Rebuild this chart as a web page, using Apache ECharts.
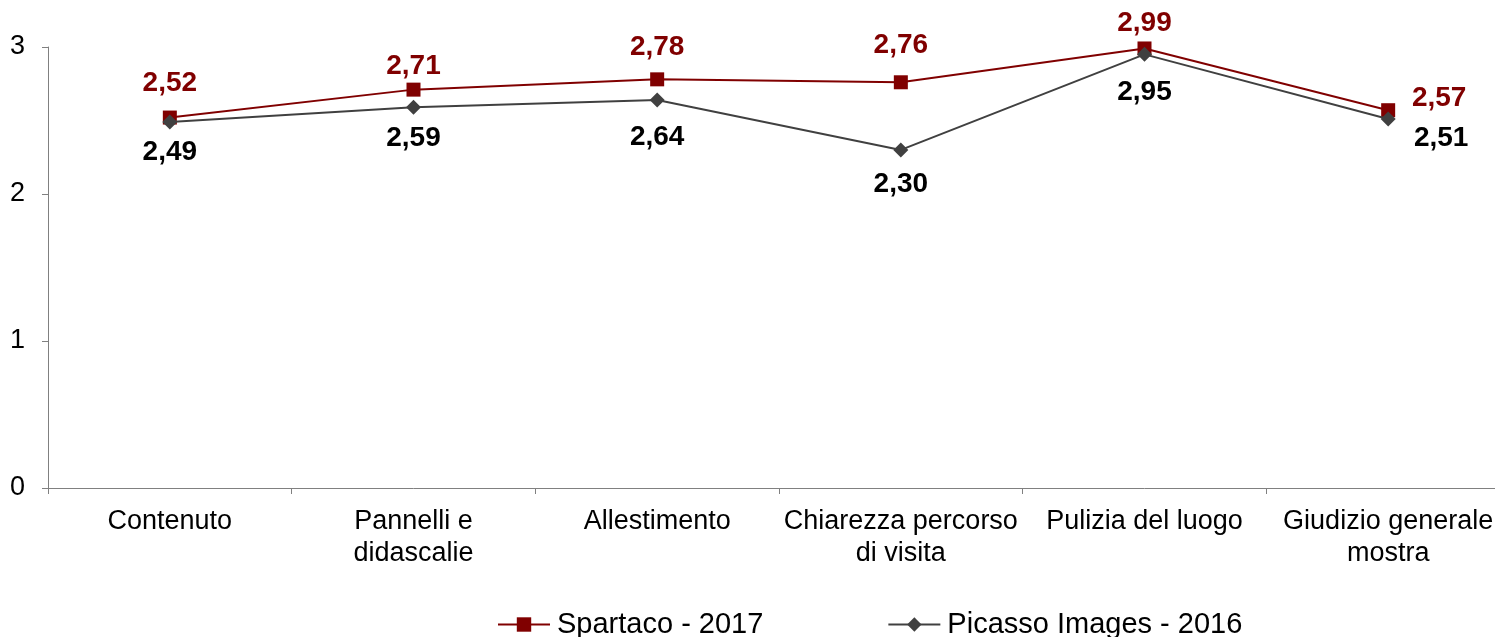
<!DOCTYPE html>
<html><head><meta charset="utf-8">
<script src="https://cdn.jsdelivr.net/npm/echarts@6/dist/echarts.min.js"></script>
<style>html,body{margin:0;padding:0;background:#fff;overflow:hidden;width:1495px;height:637px;}#c{width:1510px;height:637px;}</style>
</head><body><div id="c"></div>
<script>
const categories = ['Contenuto', 'Pannelli e\ndidascalie', 'Allestimento', 'Chiarezza percorso\ndi visita', 'Pulizia del luogo', 'Giudizio generale\nmostra'];
const spartaco = [2.52, 2.71, 2.78, 2.76, 2.99, 2.57];
const picasso = [2.49, 2.59, 2.64, 2.30, 2.95, 2.51];
const yTicks = [0, 1, 2, 3];
const seriesNames = ['Spartaco - 2017', 'Picasso Images - 2016'];
// label offsets (layout only)
const spOff = [[0,-34],[0,-23],[0,-32],[0,-37],[0,-25],[51,-12]];
const piOff = [[0,30],[0,31],[0,37],[0,34],[0,38],[53,19]];

const font = '"Liberation Sans", Arial, sans-serif';
function fmt(v){ return v.toFixed(2).replace('.', ','); }
function mk(vals, offs){
  return vals.map((v,i)=>({value:v, label:{offset:offs[i]}}));
}
const chart = echarts.init(document.getElementById('c'), null, {renderer:'canvas', width:1510, height:637});
chart.setOption({
  animation:false,
  backgroundColor:'#fff',
  grid:{left:48, top:47, bottom:149, right:0, containLabel:false},
  xAxis:{
    type:'category', data:categories, boundaryGap:true,
    axisLine:{lineStyle:{color:'#808080', width:1}},
    axisTick:{show:true, length:6, inside:false, lineStyle:{color:'#808080'}},
    axisLabel:{color:'#000', fontFamily:font, fontSize:27, lineHeight:32, margin:18, interval:0}
  },
  yAxis:{
    type:'value', min:0, max:3, interval:1,
    axisLine:{show:true, lineStyle:{color:'#808080', width:1}},
    axisTick:{show:true, length:6, lineStyle:{color:'#808080'}},
    splitLine:{show:false},
    axisLabel:{color:'#000', fontFamily:font, fontSize:27, margin:23,
      formatter:v=> yTicks.includes(v) ? String(v) : ''}
  },
  legend:{
    bottom:-2, left:497, padding:0, itemWidth:52, itemHeight:18, itemGap:124,
    textStyle:{fontFamily:font, fontSize:29, color:'#000', padding:[0,0,0,2]},
    data:seriesNames
  },
  series:[
    {
      name:seriesNames[0], type:'line', data:mk(spartaco, spOff),
      symbol:'rect', symbolSize:14,
      lineStyle:{color:'#800000', width:2},
      itemStyle:{color:'#800000'},
      label:{show:true, position:'inside', formatter:p=>fmt(p.value),
        color:'#800000', fontFamily:font, fontSize:28, fontWeight:'bold'},
      z:3
    },
    {
      name:seriesNames[1], type:'line', data:mk(picasso, piOff),
      symbol:'diamond', symbolSize:15,
      lineStyle:{color:'#404040', width:2},
      itemStyle:{color:'#404040'},
      label:{show:true, position:'inside', formatter:p=>fmt(p.value),
        color:'#000', fontFamily:font, fontSize:28, fontWeight:'bold'},
      z:4
    }
  ]
});
</script></body></html>
